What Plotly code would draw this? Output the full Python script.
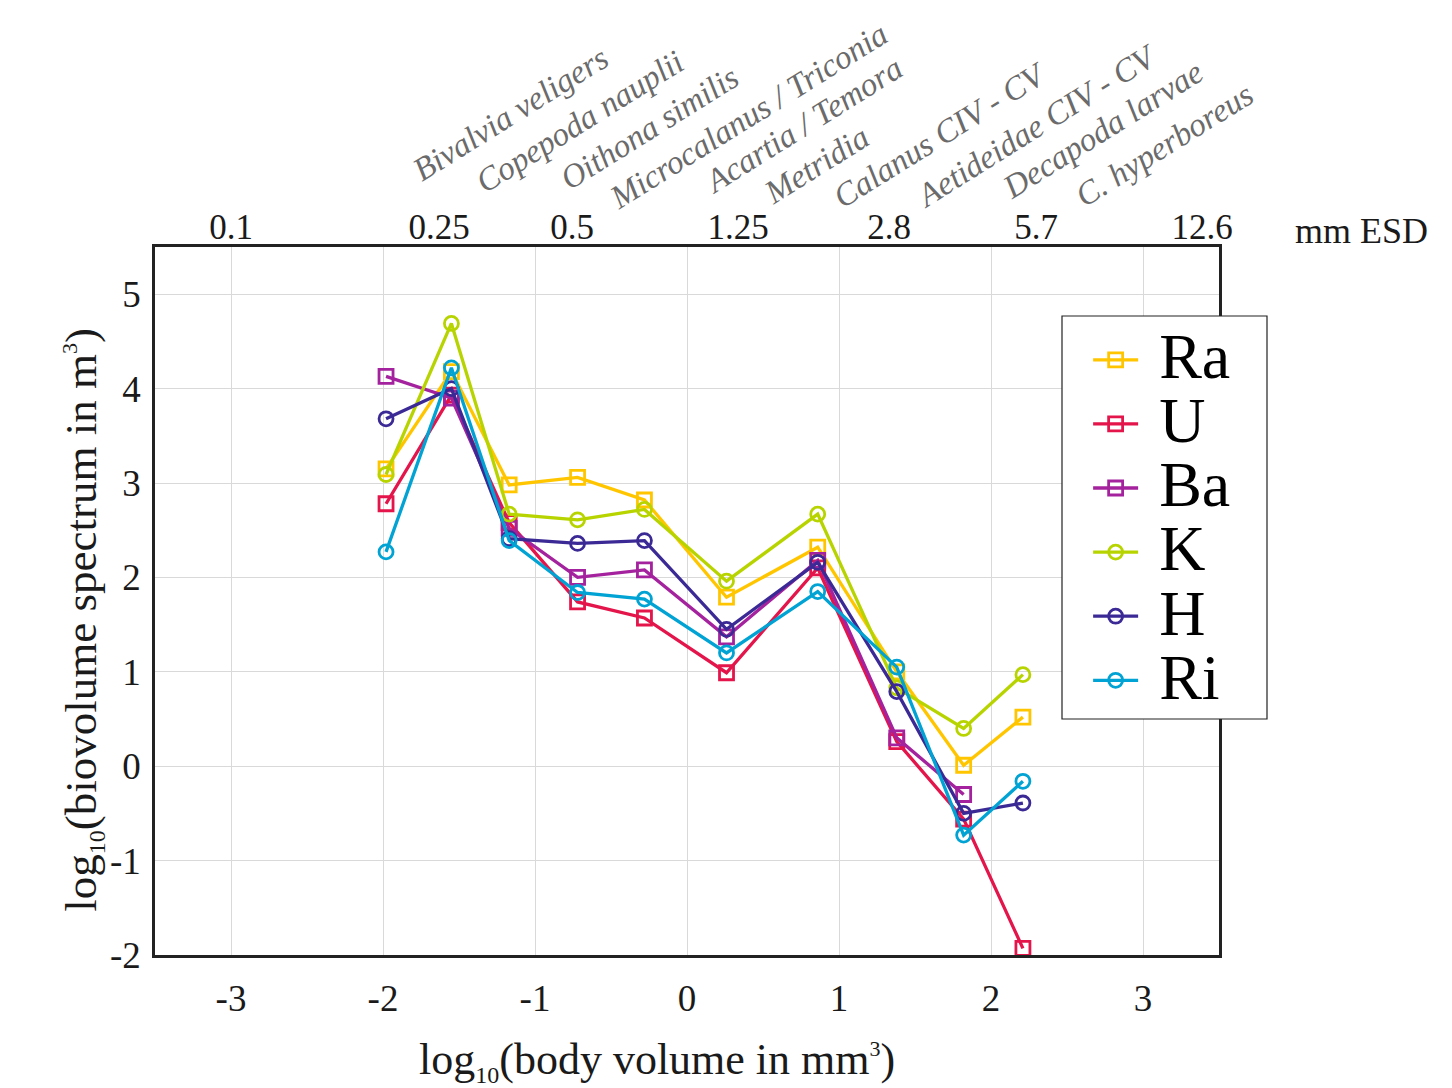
import plotly.graph_objects as go

# log10 body volume (mm^3) of each size class
body_volume = [-1.98, -1.55, -1.17, -0.72, -0.28, 0.26, 0.86, 1.38, 1.82, 2.21]

# log10 biovolume spectrum per station
ra = [3.15, 4.18, 2.98, 3.06, 2.82, 1.79, 2.32, 1.00, 0.01, 0.52]
u = [2.78, 3.93, 2.58, 1.74, 1.57, 0.99, 2.10, 0.26, -0.56, -1.93]
ba = [4.13, 3.90, 2.52, 2.00, 2.08, 1.37, 2.18, 0.30, -0.30]
k = [3.09, 4.69, 2.67, 2.61, 2.72, 1.96, 2.67, 0.83, 0.40, 0.97]
h = [3.68, 4.00, 2.41, 2.36, 2.39, 1.45, 2.16, 0.79, -0.50, -0.39]
ri = [2.27, 4.22, 2.39, 1.84, 1.77, 1.20, 1.85, 1.05, -0.73, -0.16]

stations = ["Ra", "U", "Ba", "K", "H", "Ri"]
series = [ra, u, ba, k, h, ri]
colors = ["#FFC600", "#E3154B", "#A4229D", "#B8D400", "#3B2A95", "#00A3D3"]
symbols = ["square-open"] * 3 + ["circle-open"] * 3

# equivalent spherical diameter scale (top axis)
esd_pos = [-3.0, -1.63, -0.755, 0.337, 1.33, 2.297, 3.389]
esd_text = ["0.1", "0.25", "0.5", "1.25", "2.8", "5.7", "12.6"]

# dominant taxa of each size class
taxa = ["Bivalvia veligers", "Copepoda nauplii", "Oithona similis",
        "Microcalanus / Triconia", "Acartia / Temora", "Metridia",
        "Calanus CIV - CV", "Aetideidae CIV - CV", "Decapoda larvae",
        "C. hyperboreus"]
taxa_xy = [(0.3337, 1.1885), (0.3986, 1.1772), (0.4643, 1.1687),
           (0.5574, 1.1856), (0.6091, 1.1729), (0.6213, 1.1164),
           (0.7378, 1.1588), (0.8281, 1.1715), (0.8901, 1.1659),
           (0.9484, 1.1447)]

FONT = "Liberation Serif"


def small(s, px):
    return f"<span style='font-size:{px}px'>{s}</span>"


fig = go.Figure()
for name, ys, col, sym in zip(stations, series, colors, symbols):
    fig.add_trace(go.Scatter(
        x=body_volume[:len(ys)], y=ys, mode="lines+markers",
        name=small("&nbsp;" + name, 64),
        line=dict(color=col, width=3.3),
        marker=dict(symbol=sym, size=14, color=col, line=dict(color=col, width=2.8)),
    ))

# invisible trace carrying the top ESD axis
fig.add_trace(go.Scatter(x=[-3.5, 3.5], y=[0, 0], xaxis="x2", mode="markers",
                         marker=dict(opacity=0), showlegend=False, hoverinfo="skip"))

fig.update_layout(
    width=1452, height=1088,
    margin=dict(l=155, r=233, t=247, b=133),
    paper_bgcolor="white", plot_bgcolor="white",
    font=dict(family=FONT, size=37, color="#1a1a1a"),
    xaxis=dict(range=[-3.5, 3.5], tickvals=[-3, -2, -1, 0, 1, 2, 3],
               ticktext=["-3", "-2", "-1", "0", "1", "2", "3"],
               showgrid=True, gridcolor="#d9d9d9", gridwidth=1, zeroline=False,
               showline=True, linecolor="#222", linewidth=2.5, mirror=True,
               ticks="", ticklabelstandoff=9),
    xaxis2=dict(range=[-3.5, 3.5], overlaying="x", side="top",
                tickvals=esd_pos, ticktext=esd_text, showgrid=False,
                zeroline=False, showline=False, ticks="", ticklabelstandoff=0,
                tickfont=dict(size=35)),
    yaxis=dict(range=[-2, 5.5], tickvals=[-2, -1, 0, 1, 2, 3, 4, 5],
               ticktext=["-2", "-1", "0", "1", "2", "3", "4", "5"],
               showgrid=True, gridcolor="#d9d9d9", gridwidth=1, zeroline=False,
               showline=True, linecolor="#222", linewidth=2.5, mirror=True,
               ticks="", ticklabelstandoff=4),
    legend=dict(x=0.877, y=0.893, xanchor="left", yanchor="top",
                bgcolor="rgba(0,0,0,0)", borderwidth=0,
                font=dict(family=FONT, size=47, color="black"),
                itemwidth=45, tracegroupgap=0),
    showlegend=True,
)

# legend frame
fig.add_shape(type="rect", xref="paper", yref="paper",
              x0=(1062 - 155) / 1064, x1=(1267 - 155) / 1064,
              y0=(955 - 719) / 708, y1=(955 - 316) / 708,
              line=dict(color="#222", width=1.2), fillcolor="white", layer="above")

annotations = [
    dict(text=f"log<sub>{small('10', 24)}</sub>(body volume in mm<sup>{small('3', 22)}</sup>)",
         x=0.4718, y=-0.150, xref="paper", yref="paper", showarrow=False,
         font=dict(size=44), xanchor="center", yanchor="middle"),
    dict(text=f"log<sub>{small('10', 24)}</sub>(biovolume spectrum in m<sup>{small('3', 22)}</sup>)",
         x=-0.068, y=0.473, xref="paper", yref="paper", showarrow=False,
         font=dict(size=45), textangle=-90, xanchor="center", yanchor="middle"),
    dict(text="mm ESD", x=1.134, y=1.0226, xref="paper", yref="paper",
         showarrow=False, font=dict(size=36), xanchor="center", yanchor="middle"),
]
for t, (tx, ty) in zip(taxa, taxa_xy):
    annotations.append(dict(text=f"<i>{t}</i>", x=tx, y=ty, xref="paper", yref="paper",
                            showarrow=False, textangle=-32,
                            font=dict(size=33, color="#6b6b6b"),
                            xanchor="center", yanchor="middle"))
fig.update_layout(annotations=annotations)

fig.write_html("out.html")
